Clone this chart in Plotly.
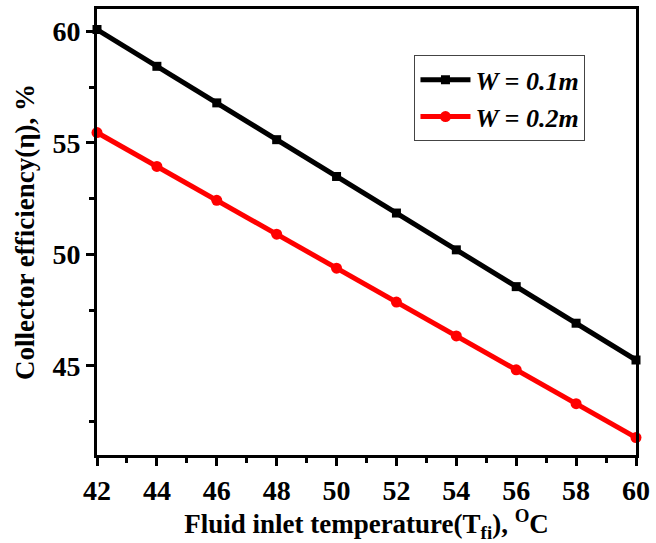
import plotly.graph_objects as go

# Fluid inlet temperature (°C)
temperature = [42, 44, 46, 48, 50, 52, 54, 56, 58, 60]
# Collector efficiency (%) for two duct widths
eff_w01 = [60.08, 58.43, 56.79, 55.14, 53.49, 51.85, 50.20, 48.55, 46.91, 45.26]
eff_w02 = [55.46, 53.94, 52.42, 50.90, 49.38, 47.86, 46.34, 44.82, 43.30, 41.78]
x_ticks = [42, 44, 46, 48, 50, 52, 54, 56, 58, 60]
y_ticks = [45, 50, 55, 60]

FONT = "Liberation Serif"


def bold_font(size):
    return dict(family=FONT, size=size, color="black", weight="bold")


fig = go.Figure()
fig.add_trace(go.Scatter(
    x=temperature, y=eff_w01, mode="lines+markers", name="<i>W = 0.1m</i>",
    line=dict(color="black", width=5),
    marker=dict(symbol="square", size=9, color="black"),
    cliponaxis=False,
))
fig.add_trace(go.Scatter(
    x=temperature, y=eff_w02, mode="lines+markers", name="<i>W = 0.2m</i>",
    line=dict(color="#ff0000", width=5),
    marker=dict(symbol="circle", size=11, color="#ff0000"),
    cliponaxis=False,
))

fig.update_layout(
    width=656, height=543,
    margin=dict(l=97, r=16, t=6, b=88),
    plot_bgcolor="white", paper_bgcolor="white",
    xaxis=dict(
        range=[42, 60], tickmode="array", tickvals=x_ticks,
        ticktext=[str(v) for v in x_ticks],
        showline=True, linewidth=3, linecolor="black", mirror=True,
        ticks="outside", ticklen=8, tickwidth=2.5, tickcolor="black",
        showgrid=False, zeroline=False,
        tickfont=bold_font(28),
        minor=dict(tickmode="linear", tick0=42, dtick=1, ticks="outside",
                   ticklen=5, tickwidth=2.5, tickcolor="black", showgrid=False),
        title=dict(text="Fluid inlet temperature(T<sub>fi</sub>), <sup>O</sup>C",
                   font=bold_font(27), standoff=6),
    ),
    yaxis=dict(
        range=[41, 61], tickmode="array", tickvals=y_ticks,
        ticktext=[str(v) for v in y_ticks],
        showline=True, linewidth=3, linecolor="black", mirror=True,
        ticks="outside", ticklen=8, tickwidth=2.5, tickcolor="black",
        showgrid=False, zeroline=False,
        tickfont=bold_font(28),
        minor=dict(tickmode="linear", tick0=40, dtick=2.5, ticks="outside",
                   ticklen=5, tickwidth=2.5, tickcolor="black", showgrid=False),
        title=dict(text="Collector efficiency(η), %",
                   font=bold_font(27), standoff=10),
    ),
    legend=dict(
        x=0.589, y=0.896, xanchor="left", yanchor="top",
        bgcolor="white", bordercolor="#444", borderwidth=1,
        font=bold_font(26),
        itemwidth=50, tracegroupgap=0,
    ),
)

fig.write_html("out.html")
